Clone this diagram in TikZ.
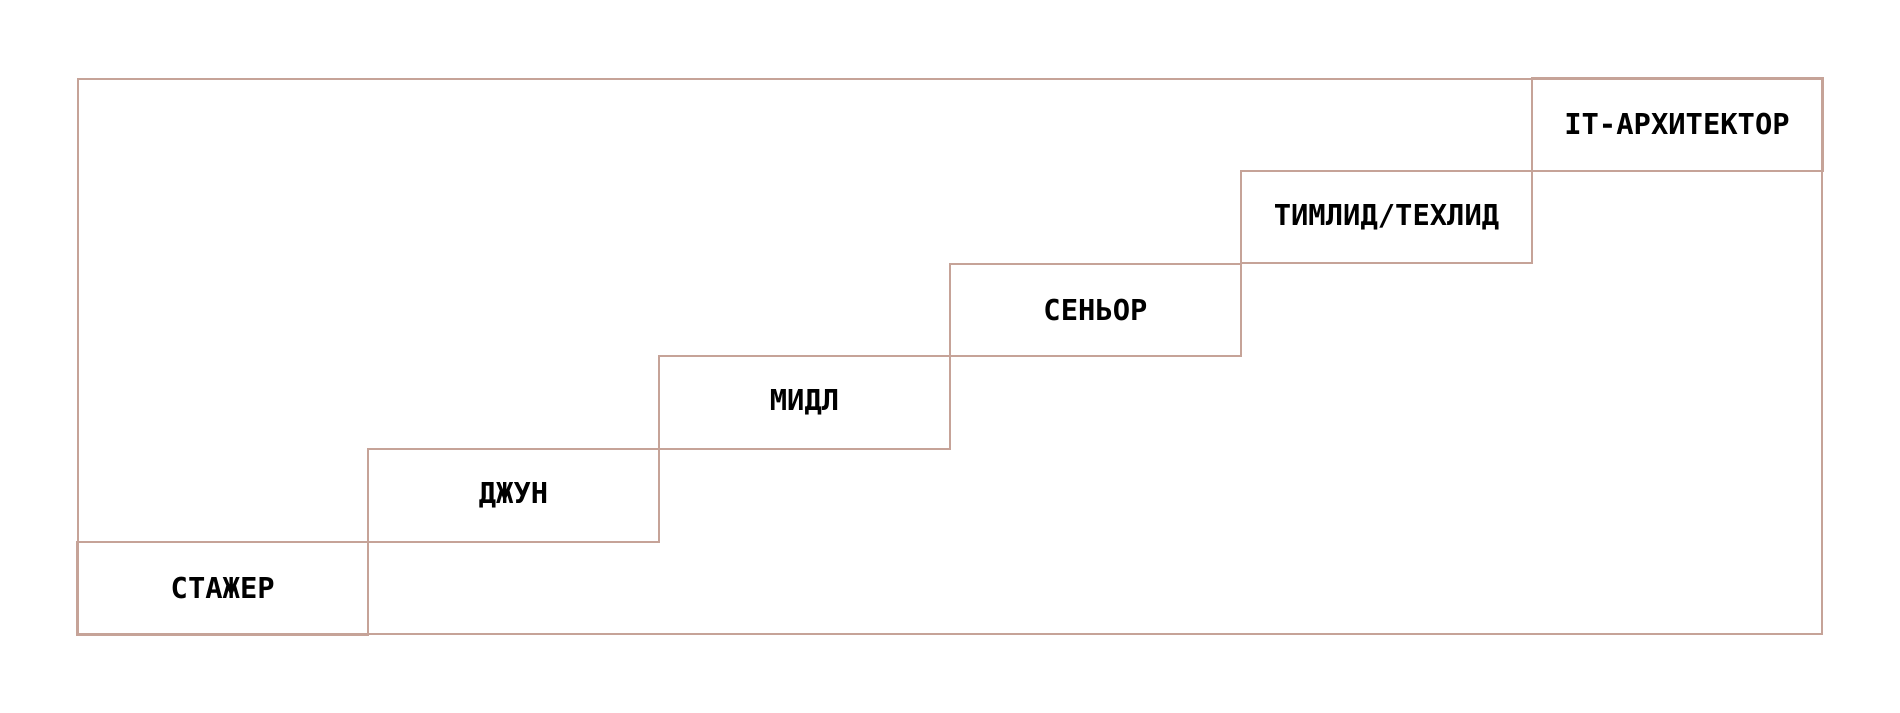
\documentclass[tikz,border=0pt]{standalone}
\usepackage{fontspec}
\newfontfamily\monobold{DejaVu Sans Mono Bold}
\definecolor{frame}{HTML}{C6A398}
\tikzset{
  stagebox/.style={draw=frame, line width=1pt, minimum width=145.5pt, minimum height=46.3pt,
    inner sep=0pt, font=\monobold\fontsize{14.4}{16}\selectfont}
}
\begin{document}
\begin{tikzpicture}[x=0.5pt,y=-0.5pt]
		\useasboundingbox (0,0) rectangle (1900,712);
		\draw[frame, line width=1pt] (77.5,78.5) rectangle (1822,634);
		\node[stagebox] (intern) at (222.75,588.25){СТАЖЕР};
		\node[stagebox] (junior) at (513.5,495.6){ДЖУН};
		\node[stagebox] (middle) at (804.5,402.5){МИДЛ};
		\node[stagebox] (senior) at (1095.5,309.8){СЕНЬОР};
		\node[stagebox] (lead) at (1386.5,217){ТИМЛИД/ТЕХЛИД};
		\node[stagebox] (arch) at (1677,124.5){IT-АРХИТЕКТОР};
	\end{tikzpicture}
\end{document}
